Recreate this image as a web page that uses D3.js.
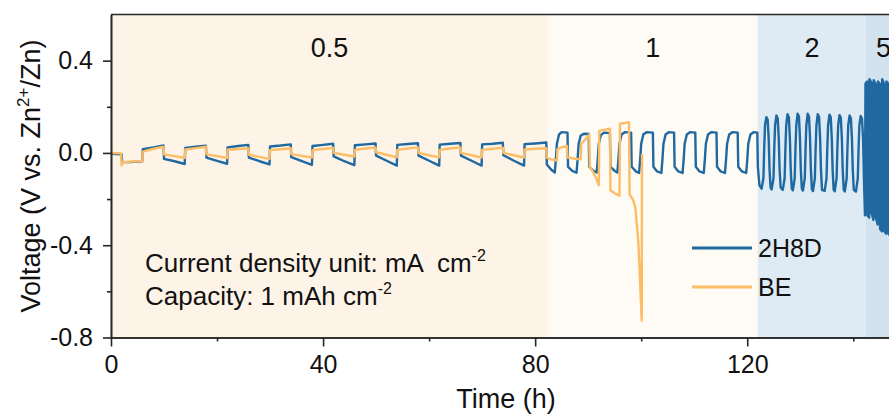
<!DOCTYPE html>
<html>
<head>
<meta charset="utf-8">
<script src="https://cdn.jsdelivr.net/npm/d3@7"></script>
<style>
  body { margin: 0; background: #fff; }
  svg { display: block; font-family: "Liberation Sans", Arial, sans-serif; }
</style>
</head>
<body>
<svg id="chart" width="889" height="414"></svg>
<script>
// axis ticks
const timeTicks = [0, 40, 80, 120]
const timeMinor = [20, 60, 100, 140]
const voltTicks = [-0.8, -0.4, 0.0, 0.4]
const voltMinor = [-0.6, -0.2, 0.2]

// current density regions (h)
const regionLabels = ["0.5", "1", "2", "5"]
const regionStart = [0, 82.4, 122, 142.4]
const regionEnd = [82.4, 122, 142.4, 149]
const regionColors = ["#fdf4e7", "#fefaf4", "#deebf4", "#d2e2ee"]

const seriesNames = ["2H8D", "BE"]
const seriesColors = ["#1f68a0", "#fdbd66"]

// 2H8D, [time h, voltage V]
const h2d8Half = [
  [0, -0.004], [2, -0.006], [2.1, -0.04], [4, -0.039], [5.9, -0.036],
  [6, 0.016], [8, 0.024], [9.9, 0.032],
  [10, -0.026], [12, -0.036], [13.9, -0.048],
  [14, 0.022], [16, 0.027], [17.9, 0.031],
  [18, -0.02], [20, -0.034], [21.9, -0.047],
  [22, 0.024], [24, 0.03], [25.9, 0.035],
  [26, -0.02], [28, -0.036], [29.9, -0.05],
  [30, 0.028], [32, 0.032], [33.9, 0.037],
  [34, -0.018], [36, -0.036], [37.9, -0.052],
  [38, 0.03], [40, 0.035], [41.9, 0.04],
  [42, -0.015], [44, -0.036], [45.9, -0.053],
  [46, 0.033], [48, 0.037], [49.9, 0.041],
  [50, -0.012], [52, -0.034], [53.9, -0.055],
  [54, 0.035], [56, 0.039], [57.9, 0.042],
  [58, -0.012], [60, -0.034], [61.9, -0.055],
  [62, 0.036], [64, 0.04], [65.9, 0.043],
  [66, -0.012], [68, -0.034], [69.9, -0.055],
  [70, 0.037], [72, 0.04], [73.9, 0.044],
  [74, -0.01], [76, -0.034], [77.9, -0.055],
  [78, 0.038], [80, 0.041], [82.1, 0.045]
]
const h2d8One = [
  [82.2, -0.05], [83, -0.072], [83.7, -0.085], [83.9, -0.03], [84.1, 0.04], [84.5, 0.08], [85, 0.09], [86.1, 0.088],
  [86.2, -0.06], [87, -0.078], [87.8, -0.086], [88, -0.03], [88.2, 0.04], [88.6, 0.075], [89.2, 0.083], [90.1, 0.082],
  [90.2, -0.06], [91, -0.078], [91.6, -0.085], [91.8, -0.03], [92, 0.04], [92.4, 0.078], [93, 0.088], [94.1, 0.086],
  [94.2, -0.06], [95, -0.078], [95.5, -0.085], [95.7, -0.03], [95.9, 0.04], [96.3, 0.08], [96.9, 0.09], [98.1, 0.088],
  [98.2, -0.06], [99, -0.08], [99.6, -0.087], [99.8, -0.03], [100, 0.04], [100.4, 0.08], [101, 0.09], [102.2, 0.088],
  [102.3, -0.06], [103, -0.08], [103.8, -0.087], [104, -0.03], [104.2, 0.04], [104.6, 0.08], [105.2, 0.09], [106.2, 0.088],
  [106.3, -0.06], [107, -0.08], [107.8, -0.087], [108, -0.03], [108.2, 0.04], [108.6, 0.08], [109.2, 0.09], [110.2, 0.088],
  [110.3, -0.06], [111, -0.08], [111.8, -0.087], [112, -0.03], [112.2, 0.04], [112.6, 0.08], [113.2, 0.09], [114.2, 0.088],
  [114.3, -0.06], [115, -0.08], [115.8, -0.087], [116, -0.03], [116.2, 0.04], [116.6, 0.08], [117.2, 0.09], [118.2, 0.088],
  [118.3, -0.06], [119, -0.08], [119.8, -0.087], [120, -0.03], [120.2, 0.04], [120.6, 0.08], [121.2, 0.09], [121.9, 0.088]
]
const h2d8Two = [
  [122.0, -0.06], [122.3, -0.14],
  [122.7, -0.155], [123.05, -0.11], [123.2, 0.02], [123.35, 0.12], [123.6, 0.155], [123.85, 0.145], [124.05, 0.06], [124.2, -0.07], [124.4, -0.15],
  [124.6, -0.158], [124.95, -0.11], [125.1, 0.02], [125.25, 0.12], [125.5, 0.162], [125.75, 0.15], [125.95, 0.06], [126.1, -0.07], [126.3, -0.15],
  [126.7, -0.16], [127.05, -0.11], [127.2, 0.02], [127.35, 0.12], [127.6, 0.168], [127.85, 0.155], [128.05, 0.06], [128.2, -0.07], [128.4, -0.155],
  [128.6, -0.162], [128.95, -0.11], [129.1, 0.02], [129.25, 0.12], [129.5, 0.17], [129.75, 0.158], [129.95, 0.06], [130.1, -0.07], [130.3, -0.155],
  [130.5, -0.163], [130.85, -0.11], [131.0, 0.02], [131.15, 0.12], [131.4, 0.17], [131.65, 0.158], [131.85, 0.06], [132.0, -0.07], [132.2, -0.158],
  [132.4, -0.165], [132.75, -0.11], [132.9, 0.02], [133.05, 0.12], [133.3, 0.168], [133.55, 0.156], [133.75, 0.06], [133.9, -0.07], [134.1, -0.16],
  [134.6, -0.165], [134.95, -0.11], [135.1, 0.02], [135.25, 0.12], [135.5, 0.166], [135.75, 0.155], [135.95, 0.06], [136.1, -0.07], [136.3, -0.16],
  [136.5, -0.166], [136.85, -0.11], [137.0, 0.02], [137.15, 0.12], [137.4, 0.164], [137.65, 0.152], [137.85, 0.06], [138.0, -0.07], [138.2, -0.16],
  [138.4, -0.167], [138.75, -0.11], [138.9, 0.02], [139.05, 0.12], [139.3, 0.162], [139.55, 0.15], [139.75, 0.06], [139.9, -0.07], [140.1, -0.16],
  [140.5, -0.168], [140.85, -0.11], [141.0, 0.02], [141.15, 0.12], [141.4, 0.16], [141.65, 0.148], [141.85, 0.06], [142.0, -0.1], [142.2, -0.27]
]
const h2d8Five = [
  [142.3, 0.30], [142.6, 0.31], [142.65, -0.27], [143.0, -0.28], [143.05, 0.32], [143.4, 0.305],
  [143.45, -0.26], [143.8, -0.29], [143.85, 0.315], [144.2, 0.30], [144.25, -0.28], [144.6, -0.31],
  [144.65, 0.31], [145.0, 0.30], [145.05, -0.33], [145.4, -0.34], [145.45, 0.32], [145.8, 0.30],
  [145.85, -0.34], [146.2, -0.35], [146.25, 0.31], [146.6, 0.30], [146.65, -0.35], [147.0, -0.36],
  [147.05, 0.31], [147.4, 0.30], [147.45, -0.36], [147.8, -0.37], [147.85, 0.30], [148.2, 0.29],
  [148.25, -0.36], [148.6, -0.37], [148.65, 0.30], [149, 0.29]
]

// BE, [time h, voltage V]
const beHalf = [
  [0, 0.0], [1.9, -0.002], [2, -0.055], [2.3, -0.04], [4, -0.037], [5.9, -0.035],
  [6, 0.006], [8, 0.018], [9.9, 0.027],
  [10, -0.006], [12, -0.014], [13.9, -0.022],
  [14, 0.015], [16, 0.021], [17.9, 0.027],
  [18, -0.006], [20, -0.014], [21.9, -0.022],
  [22, 0.014], [24, 0.017], [25.9, 0.02],
  [26, -0.008], [28, -0.017], [29.9, -0.026],
  [30, 0.012], [32, 0.016], [33.9, 0.02],
  [34, -0.005], [36, -0.013], [37.9, -0.02],
  [38, 0.012], [40, 0.017], [41.9, 0.022],
  [42, 0.0], [44, -0.008], [45.9, -0.016],
  [46, 0.013], [48, 0.019], [49.9, 0.024],
  [50, 0.003], [52, -0.008], [53.9, -0.019],
  [54, 0.013], [56, 0.019], [57.9, 0.024],
  [58, 0.0], [60, -0.01], [61.9, -0.019],
  [62, 0.013], [64, 0.019], [65.9, 0.024],
  [66, 0.0], [68, -0.01], [69.9, -0.02],
  [70, 0.013], [72, 0.018], [73.9, 0.023],
  [74, 0.0], [76, -0.01], [77.9, -0.02],
  [78, 0.015], [80, 0.018], [82.1, 0.02]
]
const beOne = [
  [82.2, -0.02], [83, -0.028], [84.1, -0.033],
  [84.2, 0.017], [85, 0.024], [86, 0.03],
  [86.1, -0.02], [87.5, -0.025], [88.6, -0.028],
  [88.7, 0.04], [89.5, 0.06], [90.2, 0.08],
  [90.3, -0.06], [91, -0.085], [91.6, -0.115], [92, -0.14],
  [92.1, 0.096], [93, 0.1], [94.1, 0.105],
  [94.2, -0.163], [95, -0.175], [95.9, -0.185],
  [96, 0.127], [97, 0.13], [97.7, 0.133],
  [97.8, -0.18], [98.4, -0.2], [98.9, -0.236], [99.5, -0.4], [100.1, -0.727],
  [100.15, -0.005]
]

const series = [
  h2d8Half.concat(h2d8One, h2d8Two, h2d8Five),
  beHalf.concat(beOne)
]

const svg = d3.select("#chart")
const x = d3.scaleLinear().domain([0, 149]).range([111, 901])
const y = d3.scaleLinear().domain([-0.8, 0.6]).range([337.5, 14.5])
const fmt = d => d3.format(".1f")(d).replace("\u2212", "-")

svg.append("defs").append("clipPath").attr("id", "plot")
  .append("rect")
  .attr("x", x(0)).attr("y", y(0.6))
  .attr("width", x(149) - x(0)).attr("height", y(-0.8) - y(0.6))

// background bands
svg.append("g").selectAll("rect")
  .data(regionLabels)
  .join("rect")
  .attr("x", (d, i) => x(regionStart[i]))
  .attr("width", (d, i) => x(regionEnd[i]) - x(regionStart[i]))
  .attr("y", y(0.6))
  .attr("height", y(-0.8) - y(0.6))
  .attr("fill", (d, i) => regionColors[i])

svg.append("g").selectAll("text")
  .data(regionLabels)
  .join("text")
  .attr("x", (d, i) => x((regionStart[i] + regionEnd[i]) / 2))
  .attr("y", 56.5)
  .attr("text-anchor", "middle")
  .attr("font-size", 27)
  .attr("fill", "#111")
  .text(d => d)

// curves
const line = d3.line().x(d => x(d[0])).y(d => y(d[1]))
svg.append("g").attr("clip-path", "url(#plot)")
  .selectAll("path")
  .data(series)
  .join("path")
  .attr("d", line)
  .attr("fill", "none")
  .attr("stroke", (d, i) => seriesColors[i])
  .attr("stroke-width", 2.4)
  .attr("stroke-linejoin", "round")

// axes
function styleAxis(g) {
  g.attr("font-size", 25).attr("font-family", null)
  g.select(".domain").attr("stroke", "#262626").attr("stroke-width", 1.6)
  g.selectAll(".tick line").attr("stroke", "#262626").attr("stroke-width", 1.6)
  g.selectAll(".tick text").attr("fill", "#111")
}

svg.append("g")
  .attr("transform", `translate(0,${y(-0.8)})`)
  .call(d3.axisBottom(x).tickValues(timeMinor).tickSize(4).tickSizeOuter(0).tickFormat(""))
  .call(styleAxis)
svg.append("g")
  .attr("transform", `translate(0,${y(-0.8)})`)
  .call(d3.axisBottom(x).tickValues(timeTicks).tickSize(9).tickSizeOuter(0).tickPadding(9))
  .call(styleAxis)

svg.append("g")
  .attr("transform", `translate(${x(0)},0)`)
  .call(d3.axisLeft(y).tickValues(voltMinor).tickSize(4).tickSizeOuter(0).tickFormat(""))
  .call(styleAxis)
svg.append("g")
  .attr("transform", `translate(${x(0)},0)`)
  .call(d3.axisLeft(y).tickValues(voltTicks).tickSize(8).tickSizeOuter(0).tickPadding(10).tickFormat(fmt))
  .call(styleAxis)

// top frame
svg.append("line")
  .attr("x1", x(0)).attr("x2", x(149))
  .attr("y1", y(0.6)).attr("y2", y(0.6))
  .attr("stroke", "#262626").attr("stroke-width", 1.6)

// axis titles
svg.append("text")
  .attr("x", (x(0) + x(149)) / 2)
  .attr("y", 408)
  .attr("text-anchor", "middle")
  .attr("font-size", 27)
  .attr("fill", "#111")
  .text("Time (h)")

const yTitle = svg.append("text")
  .attr("transform", `translate(40,${(y(0.6) + y(-0.8)) / 2}) rotate(-90)`)
  .attr("text-anchor", "middle")
  .attr("font-size", 27)
  .attr("fill", "#111")
yTitle.append("tspan").text("Voltage (V vs. Zn")
yTitle.append("tspan").attr("dy", -11).attr("font-size", 17).text("2+")
yTitle.append("tspan").attr("dy", 11).text("/Zn)")

// notes
const notes = [["Current density unit: mA  cm", "-2"], ["Capacity: 1 mAh cm", "-2"]]
const noteY = [271.5, 305]
notes.forEach((n, i) => {
  const t = svg.append("text")
    .attr("x", 145).attr("y", noteY[i])
    .attr("font-size", 26)
    .attr("fill", "#111")
    .style("white-space", "pre")
  t.append("tspan").text(n[0])
  t.append("tspan").attr("dy", -11).attr("font-size", 16).text(n[1])
})

// legend
const legendY = [248, 287]
const legend = svg.append("g")
legend.selectAll("line")
  .data(seriesNames)
  .join("line")
  .attr("x1", 692).attr("x2", 752)
  .attr("y1", (d, i) => legendY[i]).attr("y2", (d, i) => legendY[i])
  .attr("stroke", (d, i) => seriesColors[i])
  .attr("stroke-width", 3)
legend.selectAll("text")
  .data(seriesNames)
  .join("text")
  .attr("x", 758)
  .attr("y", (d, i) => legendY[i])
  .attr("dy", "0.36em")
  .attr("font-size", 25)
  .attr("fill", "#111")
  .text(d => d)
</script>
</body>
</html>
